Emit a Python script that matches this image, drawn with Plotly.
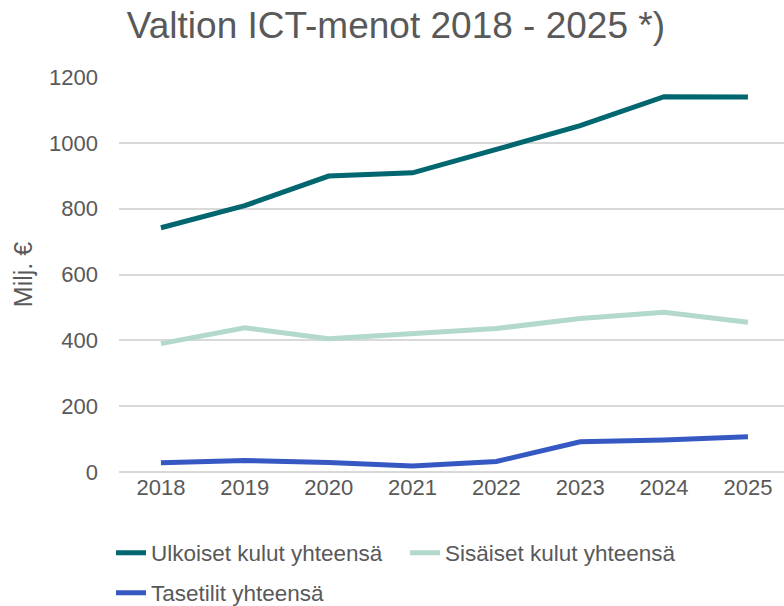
import plotly.graph_objects as go

years = ["2018", "2019", "2020", "2021", "2022", "2023", "2024", "2025"]
ulkoiset = [742, 809, 899, 909, 980, 1052, 1140, 1139]
sisaiset = [390, 438, 405, 420, 436, 466, 485, 455]
tasetilit = [28, 35, 29, 18, 32, 92, 97, 107]
names = ["Ulkoiset kulut yhteensä", "Sisäiset kulut yhteensä", "Tasetilit yhteensä"]
colors = ["#00666f", "#b2d9cb", "#3658c2"]

FONT = "Arial, Liberation Sans, sans-serif"
GRAY = "#595959"

fig = go.Figure()
fig.add_trace(go.Scatter(x=years, y=ulkoiset, name=names[0], mode="lines",
                         line=dict(color=colors[0], width=5), legend="legend"))
fig.add_trace(go.Scatter(x=years, y=sisaiset, name=names[1], mode="lines",
                         line=dict(color=colors[1], width=5), legend="legend"))
fig.add_trace(go.Scatter(x=years, y=tasetilit, name=names[2], mode="lines",
                         line=dict(color=colors[2], width=5), legend="legend2"))

fig.update_layout(
    width=784, height=606,
    margin=dict(l=119, r=0, t=77, b=134),
    paper_bgcolor="white", plot_bgcolor="white",
    font=dict(family=FONT, color=GRAY, size=22),
    title=dict(text="Valtion ICT-menot 2018 - 2025 *)", x=0.505, xanchor="center",
               y=1 - 25 / 606, yanchor="middle", font=dict(size=37, color=GRAY)),
    xaxis=dict(type="category", range=[-0.5, 7.43], showgrid=False,
               showline=False, ticks="", tickfont=dict(size=22, color=GRAY)),
    yaxis=dict(range=[0, 1200], dtick=200, showgrid=True, gridcolor="#d9d9d9",
               gridwidth=1.5, zeroline=True, zerolinecolor="#d9d9d9", zerolinewidth=1.5,
               showline=False, ticks="", ticklabelstandoff=20,
               tickfont=dict(size=22, color=GRAY),
               title=dict(text="Milj. €", font=dict(size=25, color=GRAY), standoff=9)),
    legend=dict(orientation="h", xref="container", yref="container",
                x=111 / 784, y=1 - 553 / 606, xanchor="left", yanchor="middle",
                font=dict(size=22.5, color=GRAY), itemwidth=30, entrywidth=249,
                bgcolor="rgba(0,0,0,0)"),
    legend2=dict(orientation="h", xref="container", yref="container",
                 x=111 / 784, y=1 - 593 / 606, xanchor="left", yanchor="middle",
                 font=dict(size=22.5, color=GRAY), itemwidth=30,
                 bgcolor="rgba(0,0,0,0)"),
)

fig.write_html("out.html", config={"displayModeBar": False},
               post_script="document.body.style.margin='0';")
